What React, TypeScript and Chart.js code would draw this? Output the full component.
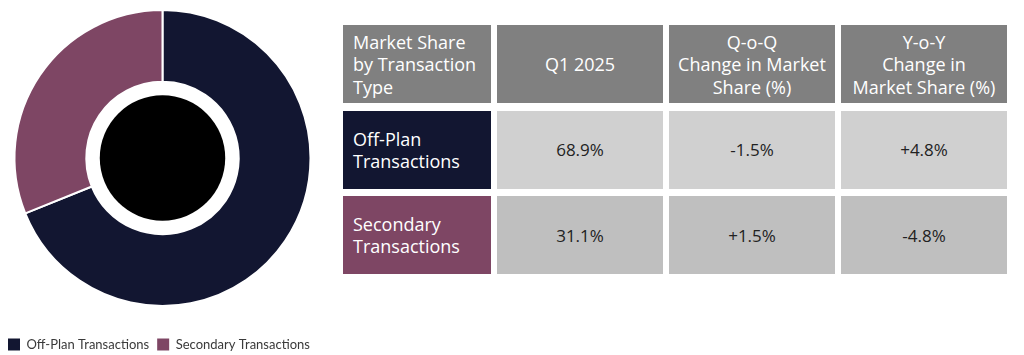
import React, { useEffect, useRef } from "react";
import { Chart, registerables } from "chart.js";

Chart.register(...registerables);

// ---- Data ----
const categories = ["Off-Plan Transactions", "Secondary Transactions"];
const shares = [68.9, 31.1];
const sliceColors = ["#121631", "#7e4664"];

const headerLines = [
  ["Market Share", "by Transaction", "Type"],
  ["Q1 2025"],
  ["Q-o-Q", "Change in Market", "Share (%)"],
  ["Y-o-Y", "Change in", "Market Share (%)"],
];
const rowLabelLines = [
  ["Off-Plan", "Transactions"],
  ["Secondary", "Transactions"],
];
const q1Values = ["68.9%", "31.1%"];
const qoqValues = ["-1.5%", "+1.5%"];
const yoyValues = ["+4.8%", "-4.8%"];
const rowBgColors = ["#d0d0d0", "#bfbfbf"];

const LEGEND_FONT = "Lato, 'Open Sans', sans-serif";
const TABLE_FONT = "'Open Sans', Lato, sans-serif";

export default function App() {
  const ref = useRef<HTMLCanvasElement>(null);

  useEffect(() => {
    const centerDisc = {
      id: "centerDisc",
      afterDatasetsDraw(chart: any) {
        const arc = chart.getDatasetMeta(0).data[0];
        if (!arc) return;
        const { x, y, innerRadius } = arc.getProps(["x", "y", "innerRadius"], true);
        const ctx = chart.ctx;
        ctx.save();
        ctx.beginPath();
        ctx.arc(x, y, innerRadius - 13.5, 0, Math.PI * 2);
        ctx.fillStyle = "#000000";
        ctx.fill();
        ctx.restore();
      },
    };

    const chart = new Chart(ref.current!, {
      type: "doughnut",
      data: {
        labels: categories,
        datasets: [
          {
            data: shares,
            backgroundColor: sliceColors,
            borderColor: "#ffffff",
            borderWidth: 2,
            hoverOffset: 0,
          },
        ],
      },
      options: {
        responsive: true,
        maintainAspectRatio: false,
        animation: false,
        cutout: "51.5%",
        layout: { padding: { top: 9, left: 0, right: 0, bottom: 0 } },
        plugins: {
          tooltip: { enabled: false },
          title: {
            display: true,
            text: "",
            position: "bottom",
            weight: 500,
            padding: { top: 11, bottom: 11 },
            font: { size: 1, lineHeight: 1 },
          },
          legend: {
            position: "bottom",
            align: "start",
            labels: {
              boxWidth: 12,
              boxHeight: 12,
              padding: 8,
              color: "#3a3a3a",
              font: { family: LEGEND_FONT, size: 13 },
              generateLabels: (c: any) => {
                const items = (Chart as any).overrides.doughnut.plugins.legend.labels.generateLabels(c);
                return items.map((it: any) => ({ ...it, lineWidth: 0 }));
              },
            },
          },
        },
      } as any,
      plugins: [centerDisc],
    });
    return () => chart.destroy();
  }, []);

  const cellBase: React.CSSProperties = {
    display: "flex",
    flexDirection: "column",
    justifyContent: "center",
    boxSizing: "border-box",
  };

  const dataCols = [q1Values, qoqValues, yoyValues];

  return (
    <div
      style={{
        position: "fixed",
        left: 0,
        top: 0,
        width: 1024,
        height: 355,
        overflow: "hidden",
        background: "#ffffff",
        fontFamily: TABLE_FONT,
      }}
    >
      <div style={{ position: "absolute", left: 0, top: 0, width: 325, height: 361 }}>
        <canvas ref={ref} />
      </div>
      <div
        style={{
          position: "absolute",
          left: 343,
          top: 25,
          display: "grid",
          gridTemplateColumns: "148px 166px 166px 166px",
          gridTemplateRows: "78px 78px 78px",
          columnGap: 6,
          rowGap: 7.5,
        }}
      >
        {headerLines.map((lines, i) => (
          <div
            key={"h" + i}
            style={{
              ...cellBase,
              background: "#808080",
              color: "#ffffff",
              fontSize: 18,
              lineHeight: "22.5px",
              alignItems: i === 0 ? "flex-start" : "center",
              textAlign: i === 0 ? "left" : "center",
              paddingLeft: i === 0 ? 10 : 0,
              paddingTop: 1,
            }}
          >
            {lines.map((l, j) => (
              <span key={j} style={{ whiteSpace: "nowrap" }}>{l}</span>
            ))}
          </div>
        ))}
        {rowLabelLines.map((lines, r) => (
          <React.Fragment key={"r" + r}>
            <div
              style={{
                ...cellBase,
                background: sliceColors[r],
                color: "#ffffff",
                fontSize: 18,
                lineHeight: "22px",
                alignItems: "flex-start",
                paddingLeft: 10,
              }}
            >
              {lines.map((l, j) => (
                <span key={j} style={{ whiteSpace: "nowrap" }}>{l}</span>
              ))}
            </div>
            {dataCols.map((col, c) => (
              <div
                key={c}
                style={{
                  ...cellBase,
                  background: rowBgColors[r],
                  color: "#222222",
                  fontSize: 17,
                  alignItems: "center",
                }}
              >
                {col[r]}
              </div>
            ))}
          </React.Fragment>
        ))}
      </div>
    </div>
  );
}
